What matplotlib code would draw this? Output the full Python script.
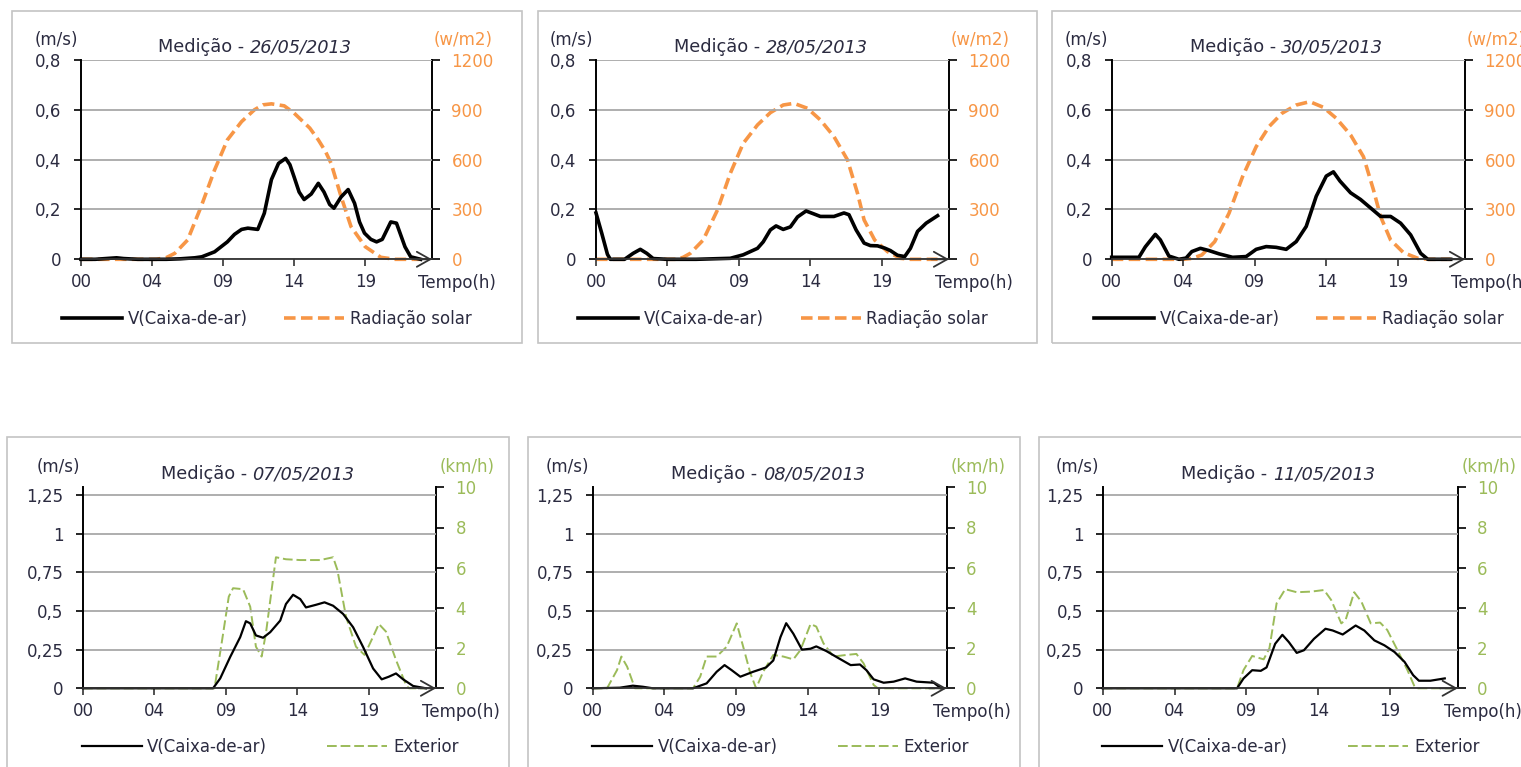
import matplotlib.pyplot as plt
from matplotlib.patches import Rectangle

W, H = 1521, 767

hour_ticks = [0, 5, 10, 15, 20]
hour_labels = ["00", "04", "09", "14", "19"]

# ---- top row: V(Caixa-de-ar) (m/s) vs Radiação solar (w/m2) ----
top_dates = ["26/05/2013", "28/05/2013", "30/05/2013"]

v26_t = [0, 1, 2, 2.5, 3, 4, 5, 6, 7, 8, 8.5, 9.4, 10.3, 10.8, 11.3, 11.74, 12.44, 12.9, 13.4,
         13.9, 14.4, 14.7, 15.0, 15.35, 15.7, 16.2, 16.7, 17.1, 17.5, 17.8, 18.3, 18.8, 19.25,
         19.6, 19.95, 20.4, 20.8, 21.2, 21.8, 22.2, 22.8, 23.2, 23.9]
v26 = [0, 0, 0.004, 0.006, 0.003, 0, 0, 0, 0.002, 0.006, 0.01, 0.03, 0.07, 0.1, 0.12, 0.125,
       0.12, 0.185, 0.32, 0.385, 0.405, 0.38, 0.33, 0.27, 0.24, 0.262, 0.305, 0.27, 0.22, 0.205,
       0.25, 0.28, 0.225, 0.15, 0.105, 0.08, 0.07, 0.08, 0.15, 0.145, 0.05, 0.01, 0]
rad26_t = [0, 4, 5.3, 6.0, 6.6, 7.5, 8.45, 9.4, 10.3, 11.3, 12.2, 12.8, 13.4, 14.3, 15.0, 15.5,
           16.1, 16.7, 17.2, 17.6, 18.3, 19.0, 20.0, 21.1, 22.1, 23.9]
rad26 = [0, 0, 0, 10, 36, 116, 317, 538, 719, 829, 900, 930, 936, 924, 880, 839, 790, 719, 650,
         578, 378, 197, 76, 12, 0, 0]

v28_t = [0, 0.4, 0.8, 1.0, 2.0, 2.6, 3.1, 3.55, 4.0, 5, 7, 9.4, 10.3, 11.3, 11.7, 12.2, 12.6,
         13.1, 13.6, 14.1, 14.7, 15.25, 15.7, 16.65, 17.35, 17.7, 18.2, 18.76, 19.2, 19.7, 20.2,
         20.6, 21.1, 21.6, 22.0, 22.5, 23.1, 23.9]
v28 = [0.186, 0.105, 0.02, 0, 0, 0.024, 0.04, 0.024, 0.003, 0, 0, 0.004, 0.018, 0.044, 0.07,
       0.118, 0.134, 0.12, 0.13, 0.17, 0.194, 0.182, 0.172, 0.172, 0.186, 0.179, 0.118, 0.065,
       0.055, 0.054, 0.045, 0.035, 0.016, 0.011, 0.044, 0.112, 0.145, 0.175]
rad28_t = [0, 5.65, 6.1, 6.6, 7.5, 8.5, 9.4, 10.3, 11.3, 12.2, 13.1, 13.85, 14.8, 15.7, 16.65,
           17.6, 18.3, 18.76, 19.5, 20.4, 21.3, 22.0, 23.9]
rad28 = [0, 0, 12, 36, 116, 297, 518, 698, 809, 883, 929, 939, 909, 839, 739, 598, 397, 237,
         116, 46, 6, 0, 0]

v30_t = [0, 1.9, 2.35, 3.05, 3.4, 4.0, 4.7, 5.2, 5.6, 6.2, 6.8, 7.5, 8.45, 9.4, 10.1, 10.8,
         11.5, 12.2, 12.9, 13.6, 14.3, 15.0, 15.5, 15.96, 16.7, 17.4, 18.1, 18.8, 19.5, 20.2,
         20.9, 21.6, 22.1, 23.7]
v30 = [0.008, 0.008, 0.05, 0.1, 0.078, 0.013, 0, 0.005, 0.031, 0.044, 0.035, 0.022, 0.008,
       0.011, 0.04, 0.051, 0.048, 0.04, 0.071, 0.132, 0.253, 0.334, 0.351, 0.314, 0.267, 0.24,
       0.206, 0.172, 0.172, 0.145, 0.098, 0.024, 0, 0]
rad30_t = [0, 5.0, 5.6, 6.3, 7.2, 8.2, 9.15, 10.1, 11.0, 11.9, 12.9, 13.85, 14.8, 15.7, 16.7,
           17.6, 18.3, 18.8, 19.5, 20.4, 21.4, 22.2, 23.7]
rad30 = [0, 0, 5, 26, 106, 277, 498, 678, 799, 879, 929, 949, 915, 849, 749, 618, 418, 257,
         116, 40, 6, 0, 0]

# ---- bottom row: V(Caixa-de-ar) (m/s) vs Exterior (km/h) ----
bottom_dates = ["07/05/2013", "08/05/2013", "11/05/2013"]

v07_t = [0, 9.1, 9.6, 10.3, 11.0, 11.4, 11.7, 12.1, 12.6, 13.1, 13.8, 14.2, 14.7, 15.2, 15.6,
         16.3, 16.9, 17.5, 18.2, 18.9, 19.6, 20.3, 20.9, 21.4, 21.9, 22.4, 23.1, 24.0]
v07 = [0, 0, 0.064, 0.203, 0.331, 0.434, 0.42, 0.342, 0.327, 0.363, 0.438, 0.545, 0.605, 0.577,
       0.523, 0.54, 0.556, 0.534, 0.481, 0.395, 0.267, 0.128, 0.058, 0.075, 0.096, 0.058, 0.015, 0]
ext07_t = [0, 9.2, 9.7, 10.2, 10.5, 11.2, 11.7, 12.1, 12.5, 12.8, 13.5, 14.2, 15.2, 16.6, 17.5,
           17.8, 18.4, 19.1, 19.7, 20.3, 20.7, 21.2, 21.9, 22.6, 22.8, 24.0]
ext07 = [0, 0, 2.24, 4.56, 4.98, 4.93, 4.06, 2.07, 1.58, 2.74, 6.52, 6.42, 6.38, 6.38, 6.52,
         5.89, 3.57, 2.07, 1.66, 2.57, 3.2, 2.82, 1.41, 0.17, 0, 0]

v08_t = [0, 1.9, 2.8, 3.5, 4.2, 7.0, 7.95, 8.65, 9.2, 9.7, 10.3, 11.2, 12.1, 12.6, 13.1, 13.5,
         14.0, 14.6, 15.2, 15.6, 16.3, 17.0, 18.0, 18.65, 19.1, 19.6, 20.3, 21.0, 21.8, 22.6,
         23.8, 24.3]
v08 = [0, 0.004, 0.017, 0.01, 0, 0, 0.032, 0.107, 0.15, 0.117, 0.075, 0.107, 0.135, 0.18, 0.331,
       0.421, 0.353, 0.25, 0.256, 0.271, 0.241, 0.203, 0.15, 0.154, 0.117, 0.058, 0.036, 0.043,
       0.064, 0.043, 0.036, 0]
ext08_t = [0, 1.0, 1.7, 2.0, 2.4, 2.95, 7.0, 7.5, 7.95, 8.65, 9.35, 10.05, 10.5, 11.0, 11.4,
           11.9, 12.6, 13.3, 14.0, 14.5, 15.2, 15.6, 16.1, 16.8, 17.7, 18.4, 18.9, 19.6, 19.9, 24.3]
ext08 = [0, 0, 0.91, 1.58, 1.08, 0, 0, 0.58, 1.58, 1.58, 2.07, 3.23, 2.07, 0.75, 0, 0.83, 1.66,
         1.58, 1.44, 1.91, 3.2, 3.07, 2.24, 1.58, 1.66, 1.71, 1.24, 0.17, 0, 0]

v11_t = [0, 9.35, 9.8, 10.4, 11.0, 11.4, 12.0, 12.5, 12.95, 13.5, 14.0, 14.7, 15.5, 16.0, 16.7,
         17.6, 18.2, 18.9, 19.6, 20.3, 21.0, 21.6, 22.0, 22.8, 23.8]
v11 = [0, 0, 0.064, 0.117, 0.113, 0.135, 0.288, 0.346, 0.299, 0.229, 0.246, 0.32, 0.385, 0.374,
       0.348, 0.406, 0.374, 0.31, 0.278, 0.235, 0.171, 0.085, 0.049, 0.049, 0.064]
ext11_t = [0, 9.35, 9.8, 10.4, 11.2, 11.6, 12.1, 12.7, 13.5, 14.5, 15.4, 15.9, 16.6, 16.9, 17.5,
           18.0, 18.65, 19.3, 19.8, 20.5, 21.2, 21.7, 21.9, 24.3]
ext11 = [0, 0, 0.91, 1.61, 1.44, 1.99, 4.23, 4.93, 4.78, 4.81, 4.89, 4.39, 3.23, 3.4, 4.78,
         4.31, 3.23, 3.27, 2.9, 1.91, 0.91, 0.08, 0, 0]

top_left_ticks = [0, 0.2, 0.4, 0.6, 0.8]
top_left_labels = ["0", "0,2", "0,4", "0,6", "0,8"]
top_right_ticks = [0, 300, 600, 900, 1200]
top_right_labels = ["0", "300", "600", "900", "1200"]
bot_left_ticks = [0, 0.25, 0.5, 0.75, 1, 1.25]
bot_left_labels = ["0", "0,25", "0,5", "0,75", "1", "1,25"]
bot_right_ticks = [0, 2, 4, 6, 8, 10]
bot_right_labels = ["0", "2", "4", "6", "8", "10"]

ORANGE = "#f79646"
GREEN = "#9bbb59"
TXT = "#2b2b40"

plt.rcParams["font.family"] = "DejaVu Sans"
plt.rcParams["font.size"] = 12

fig = plt.figure(figsize=(W / 100, H / 100), dpi=100)

top_style = dict(ylim=(0, 0.8), ylim2=(0, 1200), lticks=top_left_ticks, llabels=top_left_labels,
                 rticks=top_right_ticks, rlabels=top_right_labels, color=ORANGE,
                 label="Radiação solar", unit="(w/m2)", lw_v=2.6, lw_e=2.6, dash=(3.2, 1.5),
                 colspace=2.2, legend_y=-0.30)
bot_style = dict(ylim=(0, 1.3), ylim2=(0, 10), lticks=bot_left_ticks, llabels=bot_left_labels,
                 rticks=bot_right_ticks, rlabels=bot_right_labels, color=GREEN,
                 label="Exterior", unit="(km/h)", lw_v=1.6, lw_e=1.4, dash=(5.0, 2.0),
                 colspace=3.6, legend_y=-0.293)


def draw_panel(ax_px, box_px, date, v_t, v, e_t, e, st):
    l, r, top, bot = ax_px
    bx0, by0, bx1, by1 = box_px
    fig.add_artist(Rectangle((bx0 / W, 1 - by1 / H), (bx1 - bx0) / W, (by1 - by0) / H,
                             transform=fig.transFigure, fill=False, edgecolor="#c4c4c4", lw=1.2))
    ax = fig.add_axes([l / W, 1 - bot / H, (r - l) / W, (bot - top) / H])
    ax2 = ax.twinx()
    ax.set_zorder(ax2.get_zorder() + 1)
    ax.patch.set_visible(False)

    ax.plot(v_t, v, color="black", lw=st["lw_v"], label="V(Caixa-de-ar)", clip_on=False)
    ax2.plot(e_t, e, color=st["color"], lw=st["lw_e"], ls=(0, st["dash"]), label=st["label"],
             clip_on=False)

    ax.set_xlim(0, 24.7)
    ax.set_ylim(*st["ylim"])
    ax2.set_ylim(*st["ylim2"])
    ax.set_xticks(hour_ticks, hour_labels)
    ax.set_yticks(st["lticks"], st["llabels"])
    ax2.set_yticks(st["rticks"], st["rlabels"])

    ax.grid(axis="y", color="#a8a8a8", lw=1.3)
    ax.set_axisbelow(True)
    for s in ["top", "right"]:
        ax.spines[s].set_visible(False)
    for s in ["top", "left", "bottom"]:
        ax2.spines[s].set_visible(False)
    ax.spines["left"].set_linewidth(1.4)
    ax.spines["bottom"].set_linewidth(1.3)
    ax.spines["bottom"].set_color("#333333")
    ax2.spines["right"].set_linewidth(1.4)

    ax.tick_params(axis="y", direction="out", length=5, width=1.2, pad=9, labelcolor=TXT)
    ax.tick_params(axis="x", direction="out", length=5, width=1.2, pad=5, labelcolor=TXT,
                   color="#333333")
    ax2.tick_params(axis="y", direction="out", length=5.5, width=1.2, pad=8.5,
                    labelcolor=st["color"])

    # arrow at the end of the time axis
    ax.annotate("", xy=(1.0, 0), xycoords="axes fraction", xytext=(0.95, 0),
                arrowprops=dict(arrowstyle="->,head_length=0.8,head_width=0.45", color="#333333",
                                lw=1.3, shrinkA=0, shrinkB=0))

    # title: regular prefix + italic date
    t1 = ax.annotate("Medição - ", xy=(0.5, 1), xycoords="axes fraction", xytext=(-7, 13),
                     textcoords="offset pixels", ha="right", va="center", color=TXT, fontsize=12.8)
    ax.annotate(date, xy=(1, 0), xycoords=t1, ha="left", va="bottom", color=TXT,
                fontsize=12.8, style="italic")

    ax.annotate("(m/s)", xy=(0, 1), xycoords="axes fraction", xytext=(-25, 20),
                textcoords="offset pixels", ha="center", va="center", color=TXT)
    ax.annotate(st["unit"], xy=(1, 1), xycoords="axes fraction", xytext=(31, 20),
                textcoords="offset pixels", ha="center", va="center", color=st["color"])
    ax.annotate("Tempo(h)", xy=(1, 0), xycoords="axes fraction", xytext=(64, -24),
                textcoords="offset pixels", ha="right", va="center", color=TXT)

    ax.legend(handles=ax.lines + ax2.lines, loc="center", bbox_to_anchor=(0.53, st["legend_y"]),
              ncol=2, frameon=False, handlelength=3.6, handletextpad=0.35,
              columnspacing=st["colspace"], labelcolor=TXT)


top_axes = [(81, 432, 60, 259.3), (596, 949, 60, 259.3), (1111.7, 1465, 60, 259.3)]
top_boxes = [(12, 11, 522, 343), (538, 11, 1037, 343), (1052, 11, 1545, 343)]
bot_axes = [(83, 436, 487.3, 688.3), (592.7, 946.7, 487.3, 688.3), (1102.7, 1457.7, 487.3, 688.3)]
bot_boxes = [(7, 437, 509, 800), (528, 437, 1020, 800), (1039, 437, 1545, 800)]

top_series = [(v26_t, v26, rad26_t, rad26), (v28_t, v28, rad28_t, rad28), (v30_t, v30, rad30_t, rad30)]
bot_series = [(v07_t, v07, ext07_t, ext07), (v08_t, v08, ext08_t, ext08), (v11_t, v11, ext11_t, ext11)]

for i in range(3):
    draw_panel(top_axes[i], top_boxes[i], top_dates[i], *top_series[i], top_style)
    draw_panel(bot_axes[i], bot_boxes[i], bottom_dates[i], *bot_series[i], bot_style)

fig.savefig("out.png", dpi=100, facecolor="white")
